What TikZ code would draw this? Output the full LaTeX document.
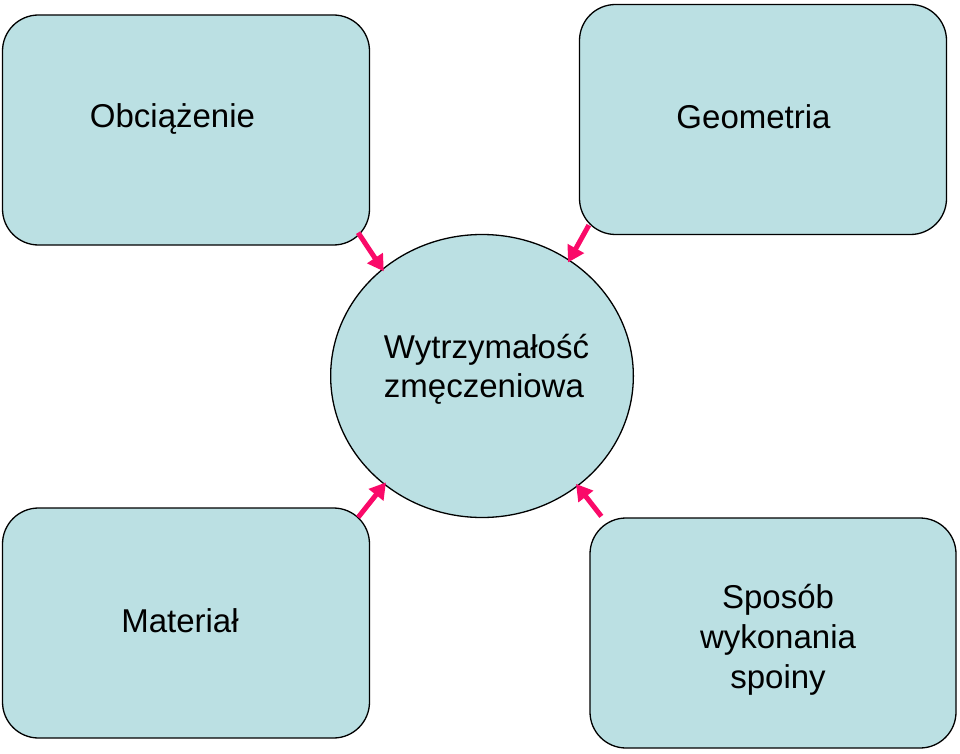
\documentclass[tikz,border=0pt]{standalone}
\usepackage{fontspec}
\setmainfont{Liberation Sans}
\usetikzlibrary{arrows.meta,shapes.geometric,calc}
\definecolor{boxfill}{RGB}{187,224,227}
\definecolor{arrowred}{RGB}{250,10,105}
\tikzset{
  boxnode/.style={draw=black, line width=1.3pt, fill=boxfill, rounded corners=36pt,
    minimum width=367pt, minimum height=230pt, inner sep=0pt, align=center,
    font=\fontsize{33}{40}\selectfont},
  hubnode/.style={draw=black, line width=1.3pt, fill=boxfill, ellipse,
    minimum width=300pt, minimum height=283pt, inner sep=0pt, align=left,
    font=\fontsize{33}{39}\selectfont},
  link/.style={draw=arrowred, line width=5pt, -{Triangle[length=16pt,width=18pt]}}
}
\begin{document}
\begin{tikzpicture}[x=1pt,y=-1pt]
\useasboundingbox (0,0) rectangle (960,754);
\node[boxnode, text height=24pt, text depth=28pt] (obc) at (186,130) {Obciążenie\kern27pt};
\node[boxnode, text height=24pt, text depth=6pt] (geo) at (763,119.5) {Geometria\kern19pt};
\node[boxnode, text height=24pt, text depth=6pt] (mat) at (186,623) {Materiał\kern12pt};
\node[boxnode, minimum width=366pt, text height=112pt, text depth=2pt] (spo) at (773,633) {\kern10pt Sposób\\\kern10pt wykonania\\\kern10pt spoiny};
\node[hubnode, text height=49pt, text depth=7pt] (hub) at (482,376) {\kern9pt Wytrzymałość\\\kern9pt zmęczeniowa};
\coordinate (t1) at ($(obc.south east)+(-12,-13)$);
\coordinate (t2) at ($(geo.south west)+(10,-10)$);
\coordinate (t3) at ($(mat.north east)+(-12,10)$);
\coordinate (t4) at ($(spo.north west)+(12,-1)$);
\draw[link, shorten >=-3pt] (t1) -- (hub.133);
\draw[link, shorten >=-3pt] (t2) -- (hub.53);
\draw[link, shorten >=-3pt] (t3) -- (hub.228);
\draw[link, shorten >=-3pt] (t4) -- (hub.311);
\end{tikzpicture}
\end{document}
